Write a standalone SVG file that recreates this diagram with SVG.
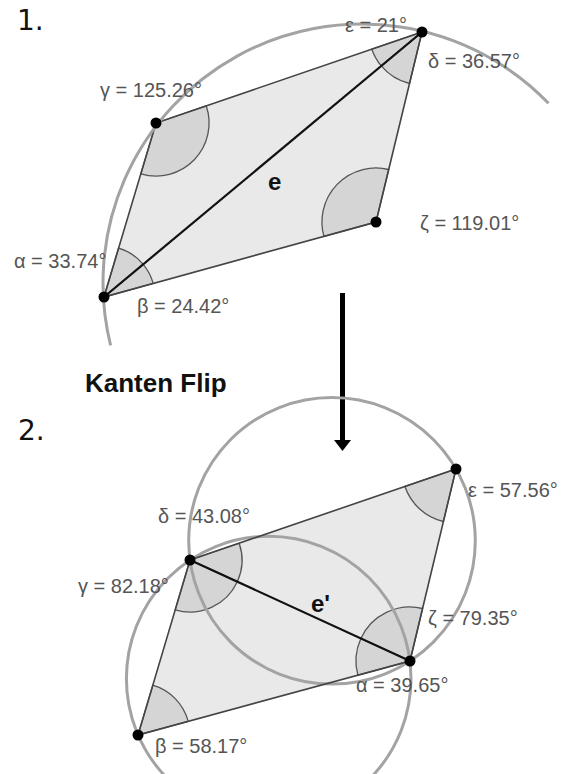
<svg xmlns="http://www.w3.org/2000/svg" width="565" height="774" viewBox="0 0 565 774">
<style>
.quad{fill:#e9e9e9;stroke:none}
.edge{fill:none;stroke:#444;stroke-width:1.6}
.diag{stroke:#111;stroke-width:2.2}
.sec{fill:#d5d5d5;stroke:#555;stroke-width:1.3}
.circ{fill:none;stroke:#a3a3a3;stroke-width:3}
.pt{fill:#000}
.lbl{font-family:"Liberation Sans",Arial,sans-serif;font-size:20px;fill:#555}
.num{font-family:"DejaVu Sans",sans-serif;font-size:28px;fill:#111}
.bold{font-family:"Liberation Sans",Arial,sans-serif;font-weight:bold;fill:#111}
</style>
<rect width="565" height="774" fill="#fff"/>

<g id="step1">
  <polygon class="quad" points="104,297 156,123 422,32 376,222"/>
  <path class="sec" d="M104,297 L118.6,248.1 A51,51 0 0 1 143.2,264.3 Z"/>
  <path class="sec" d="M104,297 L143.2,264.3 A51,51 0 0 1 153.2,283.4 Z"/>
  <path class="sec" d="M156,123 L206.2,105.8 A53,53 0 0 1 140.8,173.8 Z"/>
  <path class="sec" d="M422,32 L381.3,65.9 A53,53 0 0 1 371.8,49.2 Z"/>
  <path class="sec" d="M422,32 L409.5,83.5 A53,53 0 0 1 381.3,65.9 Z"/>
  <path class="sec" d="M376,222 L323.9,236.4 A54,54 0 0 1 388.7,169.5 Z"/>
  <polygon class="edge" points="104,297 156,123 422,32 376,222"/>
  <line class="diag" x1="104" y1="297" x2="422" y2="32"/>
  <path class="circ" d="M110.6,345.3 A259,259 0 0 1 548.5,103.3"/>
  <circle class="pt" cx="104" cy="297" r="5.5"/>
  <circle class="pt" cx="156" cy="123" r="5.5"/>
  <circle class="pt" cx="422" cy="32" r="5.5"/>
  <circle class="pt" cx="376" cy="222" r="5.5"/>
  <text class="lbl" x="100" y="97">γ = 125.26°</text>
  <text class="lbl" x="345" y="32">ε = 21°</text>
  <text class="lbl" x="428" y="68">δ = 36.57°</text>
  <text class="lbl" x="14" y="268">α = 33.74°</text>
  <text class="lbl" x="137" y="313">β = 24.42°</text>
  <text class="lbl" x="420" y="230">ζ = 119.01°</text>
  <text class="bold" x="268" y="190" font-size="24">e</text>
</g>

<g id="labels">
  <text class="num" x="17" y="30">1.</text>
  <text class="num" x="18" y="440">2.</text>
  <text class="bold" x="85" y="392" font-size="26">Kanten Flip</text>
</g>

<g id="connectors">
  <line x1="342.5" y1="293" x2="342.5" y2="441" stroke="#000" stroke-width="5"/>
  <polygon points="334,440 351,440 342.5,451" fill="#000"/>
</g>

<g id="step2">
  <polygon class="quad" points="190,560 456,469 410,661 138,735"/>
  <path class="sec" d="M190,560 L239.2,543.2 A52,52 0 0 1 237.3,581.7 Z"/>
  <path class="sec" d="M190,560 L237.3,581.7 A52,52 0 0 1 175.2,609.8 Z"/>
  <path class="sec" d="M456,469 L443.4,521.5 A54,54 0 0 1 404.9,486.5 Z"/>
  <path class="sec" d="M410,661 L360.9,638.5 A54,54 0 0 1 422.6,608.5 Z"/>
  <path class="sec" d="M410,661 L357.9,675.2 A54,54 0 0 1 360.9,638.5 Z"/>
  <path class="sec" d="M138,735 L152.8,685.2 A52,52 0 0 1 188.2,721.3 Z"/>
  <circle class="circ" cx="332" cy="540.8" r="143.3"/>
  <circle class="circ" cx="268.7" cy="678.6" r="142.3"/>
  <polygon class="edge" points="190,560 456,469 410,661 138,735"/>
  <line class="diag" x1="190" y1="560" x2="410" y2="661"/>
  <circle class="pt" cx="190" cy="560" r="5.5"/>
  <circle class="pt" cx="456" cy="469" r="5.5"/>
  <circle class="pt" cx="410" cy="661" r="5.5"/>
  <circle class="pt" cx="138" cy="735" r="5.5"/>
  <text class="lbl" x="158" y="523">δ = 43.08°</text>
  <text class="lbl" x="468" y="497">ε = 57.56°</text>
  <text class="lbl" x="78" y="593">γ = 82.18°</text>
  <text class="lbl" x="428" y="625">ζ = 79.35°</text>
  <text class="lbl" x="356" y="692">α = 39.65°</text>
  <text class="lbl" x="155" y="753">β = 58.17°</text>
  <text class="bold" x="311" y="612" font-size="24">e'</text>
</g>
</svg>
